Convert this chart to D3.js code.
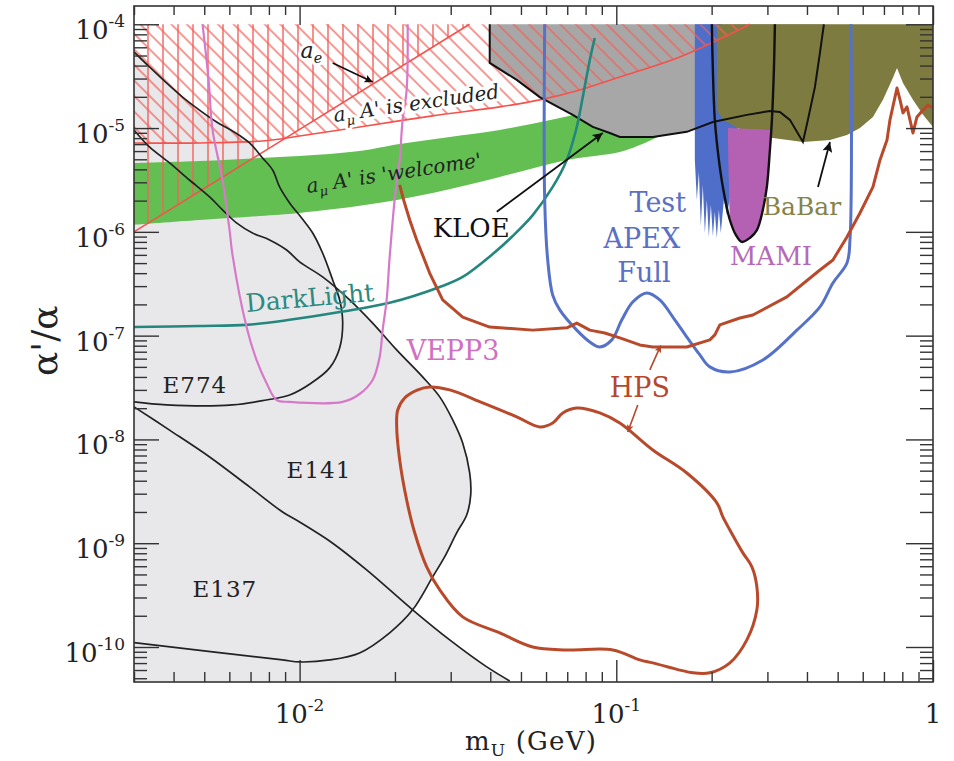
<!DOCTYPE html>
<html><head><meta charset="utf-8">
<script src="https://cdn.jsdelivr.net/npm/d3@7"></script>
<style>body{margin:0;background:#fff;} svg{display:block;}</style>
</head><body><svg id="c" width="954" height="761"></svg>
<script>
// ---------------- data (mass in GeV, alpha'/alpha) ----------------
const xDomain = [0.003, 1];
const yDomain = [4.6e-11, 1.5e-4];
const xMajor = [0.01, 0.1, 1];
const xMajorLabels = [["10","-2"],["10","-1"],["1",""]];
const yMajor = [1e-10,1e-9,1e-8,1e-7,1e-6,1e-5,1e-4];
const yMajorLabels = [["10","-10"],["10","-9"],["10","-8"],["10","-7"],["10","-6"],["10","-5"],["10","-4"]];

const e774Curve = [[0.003,5.41e-5],[0.003357,3.88e-5],[0.0038,2.72e-5],[0.00427,1.99e-5],[0.00483,1.49e-5],[0.00547,1.145e-5],[0.00614,9.38e-6],[0.00695,7.19e-6],[0.00764,5.15e-6],[0.00822,3.94e-6],[0.008645,2.71e-6],[0.0093,1.90e-6],[0.01015,1.36e-6],[0.011,9.76e-7],[0.01182,6.26e-7],[0.01272,3.44e-7],[0.01338,2.21e-7],[0.01368,1.33e-7],[0.01338,7.62e-8],[0.01244,4.89e-8],[0.0109,3.50e-8],[0.0093,2.68e-8],[0.00786,2.40e-8],[0.00614,2.15e-8],[0.0038,2.15e-8],[0.003,2.30e-8]];
const e141Curve = [[0.003,9.59e-6],[0.003357,6.58e-6],[0.003885,4.61e-6],[0.00449,3.16e-6],[0.0052,2.17e-6],[0.00571,1.63e-6],[0.00632,1.22e-6],[0.0071,9.75e-7],[0.00804,8.36e-7],[0.0091,6.69e-7],[0.01,5.13e-7],[0.01182,3.68e-7],[0.01439,2.21e-7],[0.01701,1.32e-7],[0.02025,7.28e-8],[0.02446,4.0e-8],[0.0277,2.57e-8],[0.03044,1.54e-8],[0.03273,9.25e-9],[0.03444,4.75e-9],[0.0347,2.92e-9],[0.0337,1.87e-9],[0.03133,1.26e-9],[0.0287,7.38e-10],[0.02631,4.74e-10],[0.02275,2.28e-10],[0.01925,1.37e-10],[0.01547,8.77e-11],[0.01244,7.51e-11],[0.01,7.18e-11],[0.008836,7.51e-11],[0.003,1.10e-10]];
const e137Curve = [[0.003,2.06e-8],[0.003885,1.23e-8],[0.0052,6.78e-9],[0.00695,3.49e-9],[0.008836,2.0e-9],[0.01,1.6e-9],[0.01272,1.0e-9],[0.01628,5.53e-10],[0.02275,2.28e-10],[0.02978,1.17e-10],[0.039,6.43e-11],[0.04607,4.71e-11]];

const aeLine = [[0.003,1.0e-6],[0.0344,1e-4]];
const amuLine = [[0.003,7.19e-6],[0.00483,7.19e-6],[0.00764,7.51e-6],[0.01,8.39e-6],[0.01547,1.025e-5],[0.02631,1.31e-5],[0.04284,1.6e-5],[0.05731,1.87e-5],[0.0767,2.33e-5],[0.1026,3.11e-5],[0.1587,4.84e-5],[0.2641,1e-4]];

const greenUpper = [[0.003,4.61e-6],[0.00483,4.82e-6],[0.00747,5.15e-6],[0.01,5.38e-6],[0.01547,6.02e-6],[0.0207,7.03e-6],[0.02978,8.21e-6],[0.04284,9.6e-6],[0.06631,1.25e-5],[0.1026,1.71e-5],[0.1836,2.66e-5]];
const greenLower = [[0.003,1.17e-6],[0.00483,1.30e-6],[0.00747,1.42e-6],[0.01,1.52e-6],[0.01628,1.82e-6],[0.02631,2.37e-6],[0.04284,3.38e-6],[0.06976,4.93e-6],[0.1026,5.89e-6],[0.123,7.18e-6],[0.1423,8.77e-6],[0.1836,1.145e-5]];

const kloe = [[0.03984,1e-4],[0.03984,4.24e-5],[0.04848,2.91e-5],[0.05731,1.99e-5],[0.07287,1.34e-5],[0.08429,1.025e-5],[0.09539,8.97e-6],[0.1026,8.21e-6],[0.1304,8.21e-6],[0.167,9.2e-6],[0.2018,1.145e-5],[0.2584,1.34e-5],[0.3055,1.46e-5],[0.3285,1.43e-5],[0.3533,1.2e-5],[0.3884,7.35e-6],[0.4027,1.2e-5],[0.4239,2.49e-5],[0.4395,5.29e-5],[0.4524,1e-4]];

const apexTest = [[0.177,1e-4],[0.177,4.93e-6],[0.1796,2.03e-6],[0.1823,3.78e-6],[0.1849,1.14e-6],[0.1876,2.83e-6],[0.1904,9.75e-7],[0.1932,2.03e-6],[0.196,8.93e-7],[0.1989,1.82e-6],[0.2018,9.13e-7],[0.2047,1.56e-6],[0.2077,8.74e-7],[0.2108,1.63e-6],[0.2138,9.75e-7],[0.2186,2.03e-6],[0.2234,1.45e-6],[0.23,2.37e-6],[0.2403,2.65e-6],[0.2421,1.2e-5],[0.2154,1e-4]];

const babar = [[0.2077,1e-4],[0.2077,1.49e-5],[0.217,1.2e-5],[0.2584,8.97e-6],[0.3122,8.03e-6],[0.3884,7.35e-6],[0.4727,7.68e-6],[0.535,8.58e-6],[0.588,1.0e-5],[0.6463,1.28e-5],[0.695,1.87e-5],[0.742,2.91e-5],[0.7697,3.8e-5],[0.804,2.72e-5],[0.8645,1.87e-5],[0.93,1.34e-5],[1.0,1.025e-5],[1.0,1e-4]];

const mamiFill = [[0.2251,1.0e-5],[0.2267,3.16e-6],[0.23,1.25e-6],[0.2385,9.33e-7],[0.2491,8.0e-7],[0.2641,8.74e-7],[0.2779,1.04e-6],[0.2903,1.63e-6],[0.2988,2.71e-6],[0.3055,6.15e-6],[0.3077,9.6e-6]];
const mamiLine = [[0.2003,1e-4],[0.2018,3.63e-5],[0.2047,1.2e-5],[0.2108,4.93e-6],[0.217,2.71e-6],[0.2284,1.3e-6],[0.2385,9.33e-7],[0.2491,8.0e-7],[0.2641,8.74e-7],[0.2779,1.04e-6],[0.2903,1.63e-6],[0.2988,2.71e-6],[0.3055,6.15e-6],[0.31,1.2e-5],[0.3145,3.63e-5],[0.3168,1e-4]];

const apexFull = [[0.05942,1e-4],[0.05942,2.03e-6],[0.06073,5.36e-7],[0.06298,2.46e-7],[0.06631,1.77e-7],[0.07502,1.13e-7],[0.08247,8.7e-8],[0.08868,7.78e-8],[0.09678,9.1e-8],[0.1041,1.42e-7],[0.1127,2.11e-7],[0.1249,2.58e-7],[0.1372,2.21e-7],[0.153,1.42e-7],[0.167,9.7e-8],[0.1836,6.52e-8],[0.1974,5.0e-8],[0.2284,4.47e-8],[0.2903,5.83e-8],[0.3718,1.13e-7],[0.4395,1.89e-7],[0.4831,3.22e-7],[0.535,5.01e-7],[0.5468,8.36e-7],[0.5508,1e-4]];

const darkLight = [[0.003,1.21e-7],[0.00483,1.24e-7],[0.0068,1.27e-7],[0.0093,1.42e-7],[0.01338,1.69e-7],[0.01925,2.07e-7],[0.0277,2.94e-7],[0.03273,3.68e-7],[0.04073,6.12e-7],[0.0471,9.13e-7],[0.05448,1.45e-6],[0.06298,2.71e-6],[0.06976,4.93e-6],[0.07502,1.025e-5],[0.07836,1.99e-5],[0.08247,4.53e-5],[0.0855,7.38e-5]];

const vepp3 = [[0.004938,1e-4],[0.00516,2.91e-5],[0.00531,9.6e-6],[0.00571,3.16e-6],[0.00601,1.04e-6],[0.00614,5.99e-7],[0.0068,1.21e-7],[0.00731,5.83e-8],[0.00786,3.5e-8],[0.00846,2.4e-8],[0.0093,2.3e-8],[0.01368,2.3e-8],[0.01547,2.74e-8],[0.01701,3.74e-8],[0.0179,6.23e-8],[0.01829,1.13e-7],[0.01883,2.21e-7],[0.01925,5.73e-7],[0.0201,2.53e-6],[0.0207,4.93e-6],[0.02115,1.2e-5],[0.02178,2.33e-5],[0.02194,1e-4]];

const hpsUpper = [[0.0207,2.83e-6],[0.0213,2.03e-6],[0.02227,1.3e-6],[0.02343,8.36e-7],[0.02574,4.01e-7],[0.0283,2.21e-7],[0.03273,1.51e-7],[0.03984,1.21e-7],[0.05448,1.13e-7],[0.06976,1.19e-7],[0.07502,1.32e-7],[0.08247,1.13e-7],[0.09197,1.06e-7],[0.1026,9.5e-8],[0.1186,8.14e-8],[0.1304,7.78e-8],[0.167,7.78e-8],[0.1974,9.1e-8],[0.2047,1.016e-7],[0.2123,1.27e-7],[0.2456,1.48e-7],[0.2699,1.58e-7],[0.3456,2.36e-7],[0.4395,4.29e-7],[0.4831,5.36e-7],[0.535,8.93e-7],[0.588,1.52e-6],[0.6463,2.71e-6],[0.6802,4.93e-6],[0.7157,7.68e-6],[0.7314,1.2e-5],[0.7697,2.43e-5],[0.7868,1.87e-5],[0.804,1.4e-5],[0.8277,1.6e-5],[0.8458,1.2e-5],[0.8645,8.97e-6],[0.89,1.28e-5],[0.93,1.49e-5],[0.964,1.67e-5],[1.0,1.56e-5]];
const hpsLower = [[0.02025,1.38e-8],[0.02041,1.92e-8],[0.02147,2.51e-8],[0.0236,3.0e-8],[0.02574,3.2e-8],[0.02978,3.0e-8],[0.03786,2.25e-8],[0.04848,1.65e-8],[0.05731,1.32e-8],[0.06298,1.44e-8],[0.06776,1.8e-8],[0.07502,2.01e-8],[0.08868,1.8e-8],[0.1026,1.44e-8],[0.1304,7.92e-9],[0.167,4.75e-9],[0.2077,2.45e-9],[0.217,1.79e-9],[0.2284,1.34e-9],[0.251,8.07e-10],[0.268,5.92e-10],[0.2779,3.8e-10],[0.2779,2.28e-10],[0.2584,1.17e-10],[0.2284,7.03e-11],[0.1974,5.64e-11],[0.1745,5.64e-11],[0.1304,7.03e-11],[0.1186,7.51e-11],[0.0975,9.37e-11],[0.06976,9.37e-11],[0.05448,1.0e-10],[0.04284,1.37e-10],[0.03273,1.95e-10],[0.0277,3.55e-10],[0.02519,5.92e-10],[0.02309,1.26e-9],[0.02178,2.61e-9],[0.0207,6.37e-9]];

// annotation arrows [from, to]
const arrowAe = [[0.01272,4.24e-5],[0.01701,2.78e-5]];
const arrowKloe = [[0.04194,1.56e-6],[0.09065,8.97e-6]];
const arrowBabar = [[0.4334,2.71e-6],[0.4727,7.35e-6]];
const arrowHps1 = [[0.1276,4.68e-8],[0.1382,8.05e-8]];
const arrowHps2 = [[0.1169,2.15e-8],[0.1087,1.18e-8]];

// label anchor points
const labelE774 = [0.00369,2.81e-8], labelE141 = [0.0091,4.26e-9], labelE137 = [0.00459,3.04e-10];
const labelKloe = [0.02631,8.93e-7];
const labelTest = [0.1352,1.56e-6], labelApex = [0.1204,7.0e-7], labelFull = [0.1222,3.29e-7];
const labelBabar = [0.3856,1.46e-6], labelMami = [0.3077,4.8e-7];
const labelDark = [0.0068,1.69e-7], labelVepp = [0.02178,5.83e-8], labelHps = [0.0954,2.57e-8];
const labelAe = [0.01007,4.73e-5], labelAmuEx = [0.0129,1.145e-5], labelAmuWel = [0.0106,2.37e-6];

// ---------------- drawing ----------------
const serif = "'DejaVu Serif','Liberation Serif',serif";
const x = d3.scaleLog().domain(xDomain).range([134, 933]);
const y = d3.scaleLog().domain(yDomain).range([682, 6]);
const svg = d3.select("#c");
const defs = svg.append("defs");
defs.append("clipPath").attr("id","plot").append("rect")
  .attr("x",x(xDomain[0])).attr("y",y(yDomain[1])).attr("width",x(xDomain[1])-x(xDomain[0])).attr("height",y(yDomain[0])-y(yDomain[1]));
const hatchCol = "#f2625c";
const pv = defs.append("pattern").attr("id","hv").attr("patternUnits","userSpaceOnUse")
  .attr("width",15).attr("height",10).attr("x",141);
pv.append("line").attr("x1",7).attr("x2",7).attr("y1",-1).attr("y2",11).attr("stroke",hatchCol).attr("stroke-width",1.4);
const pd = defs.append("pattern").attr("id","hd").attr("patternUnits","userSpaceOnUse")
  .attr("width",11).attr("height",10).attr("patternTransform","rotate(-45)");
pd.append("line").attr("x1",5).attr("x2",5).attr("y1",-1).attr("y2",11).attr("stroke",hatchCol).attr("stroke-width",1.3);

function marker(id, color, w, h){
  defs.append("marker").attr("id",id).attr("viewBox","0 0 10 10").attr("refX",10).attr("refY",5)
    .attr("markerWidth",w).attr("markerHeight",h).attr("markerUnits","userSpaceOnUse").attr("orient","auto")
    .append("path").attr("d","M0,0 L10,5 L0,10 L2,5 Z").attr("fill",color);
}
marker("ab","#111",16,10);
marker("abs","#111",12,8);
marker("ah","#b5482c",10,7);

const plot = svg.append("g").attr("clip-path","url(#plot)");
const lin = d3.line().x(d=>x(d[0])).y(d=>y(d[1]));
const smooth = d3.line().x(d=>x(d[0])).y(d=>y(d[1])).curve(d3.curveCatmullRom.alpha(0.5));
const smoothClosed = d3.line().x(d=>x(d[0])).y(d=>y(d[1])).curve(d3.curveCatmullRomClosed.alpha(0.5));
const xmin = xDomain[0], ymin = yDomain[0], ytop = yMajor[yMajor.length-1];

// light grey excluded regions
const grey = "#e8e8eb";
plot.append("path").attr("d", smooth(e774Curve)+"Z").attr("fill",grey);
plot.append("path").attr("d", smooth(e141Curve)+"Z").attr("fill",grey);
plot.append("path").attr("d", lin(e137Curve.concat([[e137Curve[e137Curve.length-1][0], ymin],[xmin, ymin]]))+"Z").attr("fill",grey);

// green band
plot.append("path").attr("d", smooth(greenUpper) + "L" + smooth(greenLower.slice().reverse()).slice(1) + "Z").attr("fill","#63bf52");

// KLOE
plot.append("path").attr("d", lin(kloe)+"Z").attr("fill","#a7a7a7");
// APEX test
plot.append("path").attr("d", lin(apexTest)+"Z").attr("fill","#4e6ec9");
// BaBar
plot.append("path").attr("d", lin(babar)+"Z").attr("fill","#7d7b3f");
// MAMI fill
plot.append("path").attr("d", smooth(mamiFill)+"Z").attr("fill","#b461b4");

// hatching
plot.append("path").attr("d", lin(aeLine.concat([[xmin, ytop]]))+"Z").attr("fill","url(#hv)");
plot.append("path").attr("d", lin(amuLine.concat([[xmin, ytop]]))+"Z").attr("fill","url(#hd)");
plot.append("path").attr("d", lin(aeLine)).attr("fill","none").attr("stroke","#f4524c").attr("stroke-width",1.6);
plot.append("path").attr("d", smooth(amuLine)).attr("fill","none").attr("stroke","#f4524c").attr("stroke-width",1.6);

// black contours
[e774Curve, e141Curve, e137Curve].forEach(c=>{
  plot.append("path").attr("d", smooth(c)).attr("fill","none").attr("stroke","#222").attr("stroke-width",1.7);
});
plot.append("path").attr("d", lin(kloe)).attr("fill","none").attr("stroke","#111").attr("stroke-width",2);
plot.append("path").attr("d", smooth(mamiLine)).attr("fill","none").attr("stroke","#111").attr("stroke-width",2.4);

// experiment lines
plot.append("path").attr("d", smooth(darkLight)).attr("fill","none").attr("stroke","#23877d").attr("stroke-width",2.6);
plot.append("path").attr("d", smooth(vepp3)).attr("fill","none").attr("stroke","#d679c9").attr("stroke-width",2.2);
plot.append("path").attr("d", smooth(apexFull)).attr("fill","none").attr("stroke","#5672c8").attr("stroke-width",3);
plot.append("path").attr("d", lin(hpsUpper)).attr("fill","none").attr("stroke","#b84a2b").attr("stroke-width",3).attr("stroke-linejoin","round");
plot.append("path").attr("d", smoothClosed(hpsLower)).attr("fill","none").attr("stroke","#b84a2b").attr("stroke-width",3);

// arrows
function arrow(a, m, col, w){
  svg.append("line").attr("x1",x(a[0][0])).attr("y1",y(a[0][1])).attr("x2",x(a[1][0])).attr("y2",y(a[1][1]))
    .attr("stroke",col).attr("stroke-width",w).attr("marker-end","url(#"+m+")");
}
arrow(arrowAe,"abs","#111",1.6);
arrow(arrowKloe,"ab","#111",1.8);
arrow(arrowBabar,"ab","#111",1.8);
arrow(arrowHps1,"ah","#b5482c",1.6);
arrow(arrowHps2,"ah","#b5482c",1.6);

// frame + ticks
const axCol = "#333";
const majY = yMajor, minY = y.ticks().filter(v=>!yMajor.some(m=>Math.abs(m-v)/m<1e-6));
const majX = xMajor, minX = x.ticks().filter(v=>!xMajor.some(m=>Math.abs(m-v)/m<1e-6));
function ax(gen, tr){
  const g = svg.append("g").attr("transform",tr).call(gen);
  g.select(".domain").remove();
  g.selectAll("line").attr("stroke",axCol).attr("stroke-width",1.4);
  g.selectAll("text").remove();
}
const L = x.range()[0], R = x.range()[1], T = y.range()[1], B = y.range()[0];
ax(d3.axisLeft(y).tickValues(majY).tickSize(-25).tickFormat(""), `translate(${L},0)`);
ax(d3.axisLeft(y).tickValues(minY).tickSize(-13).tickFormat(""), `translate(${L},0)`);
ax(d3.axisRight(y).tickValues(majY).tickSize(-27).tickFormat(""), `translate(${R},0)`);
ax(d3.axisRight(y).tickValues(minY).tickSize(-13).tickFormat(""), `translate(${R},0)`);
ax(d3.axisBottom(x).tickValues(majX).tickSize(-22).tickFormat(""), `translate(0,${B})`);
ax(d3.axisBottom(x).tickValues(minX).tickSize(-10).tickFormat(""), `translate(0,${B})`);
ax(d3.axisTop(x).tickValues(majX).tickSize(-19).tickFormat(""), `translate(0,${T})`);
ax(d3.axisTop(x).tickValues(minX).tickSize(-9).tickFormat(""), `translate(0,${T})`);
svg.append("rect").attr("x",L).attr("y",T).attr("width",R-L).attr("height",B-T)
  .attr("fill","none").attr("stroke",axCol).attr("stroke-width",1.6);

// tick labels
yMajor.forEach((v,i)=>{
  const t = svg.append("text").attr("x",L-9).attr("y",y(v)+15).attr("text-anchor","end")
    .attr("font-family",serif).attr("fill","#222");
  t.append("tspan").attr("font-size",26).text(yMajorLabels[i][0]);
  t.append("tspan").attr("font-size",17).attr("dy",-12).text(yMajorLabels[i][1]);
});
xMajor.forEach((v,i)=>{
  const t = svg.append("text").attr("x",x(v)).attr("y",B+41).attr("text-anchor","middle")
    .attr("font-family",serif).attr("fill","#222");
  t.append("tspan").attr("font-size",26).text(xMajorLabels[i][0]);
  if (xMajorLabels[i][1]) t.append("tspan").attr("font-size",17).attr("dy",-12).text(xMajorLabels[i][1]);
});

// axis titles
const xt = svg.append("text").attr("x",(x(0.01)+x(0.1))/2+73).attr("y",B+68).attr("text-anchor","middle")
  .attr("font-family",serif).attr("fill","#222").attr("letter-spacing",1.2);
xt.append("tspan").attr("font-size",26).text("m");
xt.append("tspan").attr("font-size",17).attr("dy",6).text("U");
xt.append("tspan").attr("font-size",26).attr("dy",-6).text(" (GeV)");
svg.append("text").attr("transform",`translate(57,${y(1e-7)+5}) rotate(-90)`).attr("text-anchor","middle")
  .attr("font-family",serif).attr("font-size",36).attr("fill","#222").text("α'/α");

// labels
function lab(p, txt, col, size, opts={}){
  const t = svg.append("text").attr("x",x(p[0])).attr("y",y(p[1])).attr("font-family",serif)
    .attr("font-size",size).attr("fill",col).attr("text-anchor",opts.anchor||"start");
  if (opts.ls) t.attr("letter-spacing",opts.ls);
  if (opts.rot) t.attr("transform",`rotate(${opts.rot},${x(p[0])},${y(p[1])})`);
  t.text(txt);
  return t;
}
lab(labelE774,"E774","#222",23,{ls:1});
lab(labelE141,"E141","#222",23,{ls:1});
lab(labelE137,"E137","#222",23,{ls:1});
lab(labelKloe,"KLOE","#111",26);
lab(labelTest,"Test","#5b6fc5",27,{anchor:"middle"});
lab(labelApex,"APEX","#5b6fc5",27,{anchor:"middle"});
lab(labelFull,"Full","#5b6fc5",27,{anchor:"middle"});
lab(labelBabar,"BaBar","#858348",25,{anchor:"middle"});
lab(labelMami,"MAMI","#b56ab8",26,{anchor:"middle"});
lab(labelDark,"DarkLight","#2c8a80",25,{rot:-5});
lab(labelVepp,"VEPP3","#d070c2",27);
lab(labelHps,"HPS","#b5482c",27);

function subLab(p, main, sub, rest, size, rot, halo){
  const t = svg.append("text").attr("x",x(p[0])).attr("y",y(p[1])).attr("font-family",serif)
    .attr("font-style","italic").attr("font-size",size).attr("fill","#222")
    .attr("transform",`rotate(${rot},${x(p[0])},${y(p[1])})`);
  if (halo) t.attr("stroke",halo).attr("stroke-width",6).attr("paint-order","stroke").attr("stroke-linejoin","round");
  t.append("tspan").text(main);
  t.append("tspan").attr("font-size",size*0.65).attr("dy",5).text(sub);
  if (rest) t.append("tspan").attr("dy",-5).text(rest);
}
subLab(labelAe,"a","e","",22,0,"#fff");
subLab(labelAmuEx,"a","μ"," A' is excluded",20,-8.3,"#fff");
subLab(labelAmuWel,"a","μ"," A' is 'welcome'",20,-8.6,null);
</script></body></html>
